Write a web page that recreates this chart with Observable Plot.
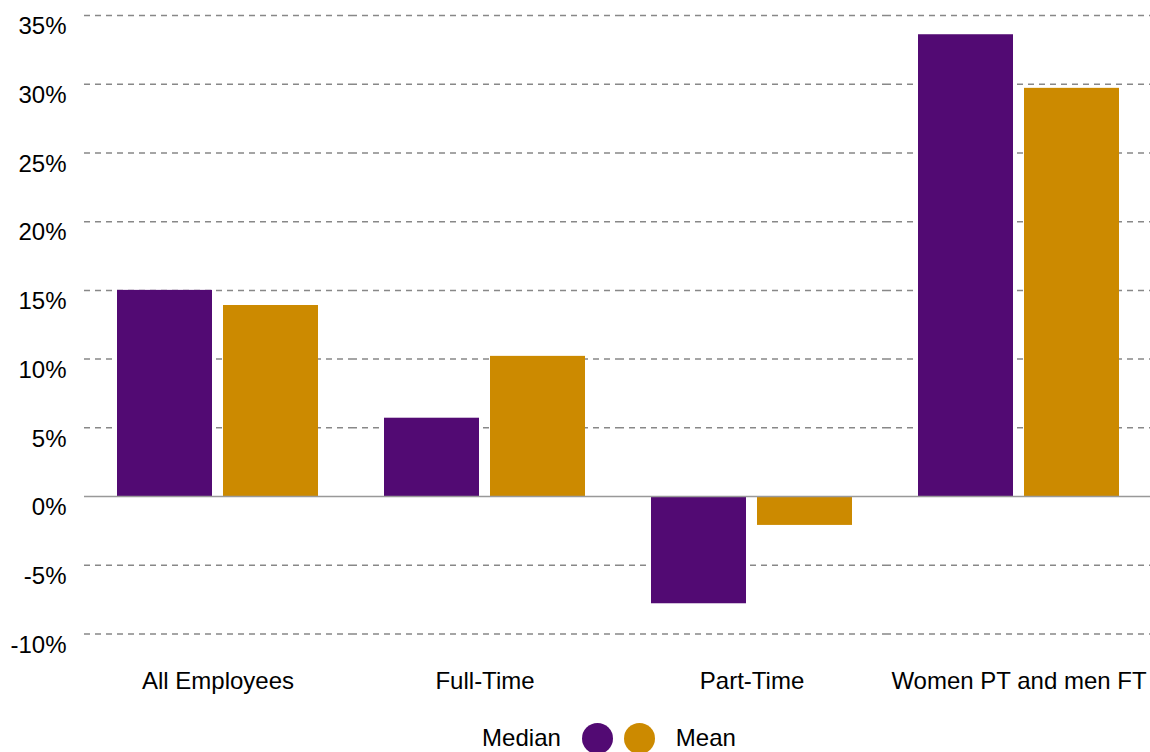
<!DOCTYPE html>
<html>
<head>
<meta charset="utf-8">
<script src="https://cdn.jsdelivr.net/npm/d3@7"></script>
<script src="https://cdn.jsdelivr.net/npm/@observablehq/plot@0.6"></script>
<style>
  html, body { margin: 0; padding: 0; background: #fff; overflow: hidden; }
  body { font-family: "Liberation Sans", Arial, sans-serif; width: 1150px; }
  #chart svg { overflow: visible; }
  #legend { display: flex; align-items: center; justify-content: center; margin-left: 68px; margin-top: 18px; height: 40px; font-size: 24px; color: #000; }
  #legend .sw { width: 31px; height: 31px; border-radius: 50%; display: inline-block; }
</style>
</head>
<body>
<div id="chart"></div>
<div id="legend"></div>
<script>
const groups = ["All Employees", "Full-Time", "Part-Time", "Women PT and men FT"];
const measures = ["Median", "Mean"];
const medianValues = [15.0, 5.7, -7.8, 33.6];
const meanValues = [13.9, 10.2, -2.1, 29.7];
const yTicks = [-10, -5, 0, 5, 10, 15, 20, 25, 30, 35];
const colors = ["#520a73", "#cc8a00"];

const data = [];
groups.forEach((g, i) => {
  data.push({group: g, measure: "Median", value: medianValues[i]});
  data.push({group: g, measure: "Mean", value: meanValues[i]});
});

const chart = Plot.plot({
  width: 1150,
  height: 700,
  marginLeft: 84,
  marginRight: -2,
  marginTop: 15,
  marginBottom: 66.5,
  style: {fontFamily: "Liberation Sans, Arial, sans-serif", fontSize: "24px", color: "#000", overflow: "visible"},
  fx: {domain: groups, padding: 0, label: null, axis: null},
  x: {domain: measures, paddingInner: 0.103, paddingOuter: 0.3, axis: null},
  y: {domain: [-10, 35], label: null, axis: null},
  color: {domain: measures, range: colors},
  marks: [
    Plot.gridY(yTicks.filter(d => d !== 0), {stroke: "#888", strokeOpacity: 1, strokeWidth: 1.5, strokeDasharray: "6,5", facet: "exclude"}),
    Plot.barY(data, {fx: "group", x: "measure", y: "value", fill: "measure"}),
    Plot.ruleY([0], {stroke: "#999", strokeWidth: 1.5}),
    Plot.axisY({ticks: yTicks, tickFormat: d => d + "%", tickSize: 0, tickPadding: 18, dy: 11, fontSize: 24, label: null}),
    Plot.axisFx({domain: groups, anchor: "bottom", tickSize: 0, tickPadding: 38, fontSize: 24, label: null})
  ]
});
document.getElementById("chart").appendChild(chart);

const legend = document.getElementById("legend");
legend.innerHTML =
  `<span>Median</span>` +
  `<span class="sw" style="background:${colors[0]};margin-left:21px"></span>` +
  `<span class="sw" style="background:${colors[1]};margin-left:11px"></span>` +
  `<span style="margin-left:21px">Mean</span>`;
</script>
</body>
</html>
